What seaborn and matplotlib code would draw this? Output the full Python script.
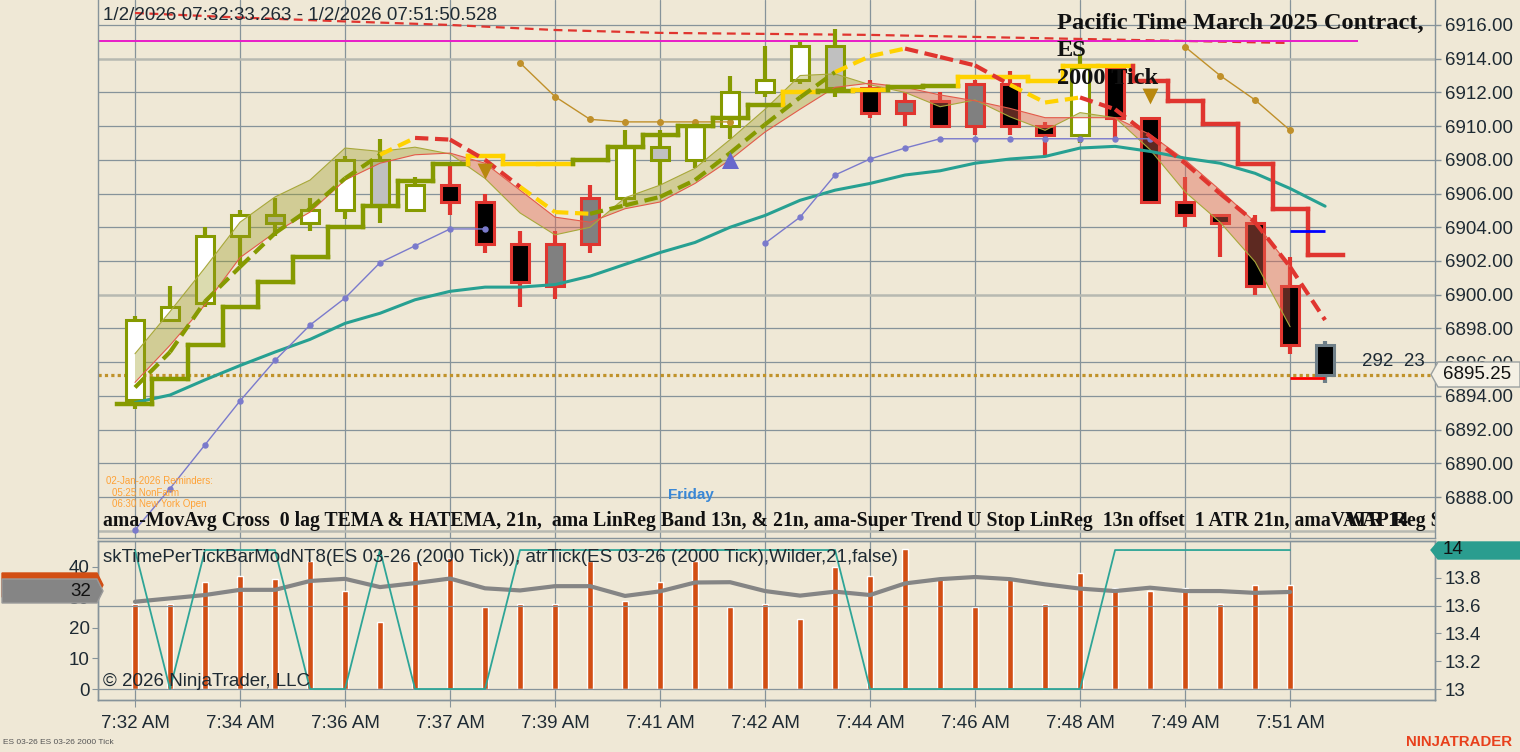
import numpy as np
import matplotlib
matplotlib.use("Agg")
import matplotlib.pyplot as plt
import seaborn as sns
from matplotlib.patches import Polygon

sns.set_style("ticks")
plt.rcParams['font.family'] = ['Liberation Sans', 'DejaVu Sans']

# ---------------- data ----------------
bars = list(range(35))
opens = [6893.75, 6898.5, 6899.5, 6903.5, 6904.25, 6904.25, 6905.0, 6905.25, 6905.0, 6906.5,
         6905.5, 6903.0, 6903.0, 6903.0, 6905.75, 6908.0, 6908.0, 6910.0, 6912.0, 6912.75,
         6912.25, 6912.25, 6911.5, 6911.5, 6912.5, 6912.5, 6910.0, 6909.5, 6913.5, 6910.5,
         6905.5, 6904.75, 6904.25, 6900.5, 6897.0]
highs = [6898.75, 6900.5, 6904.0, 6905.0, 6905.75, 6905.75, 6908.25, 6909.25, 6907.0, 6907.75,
         6906.0, 6903.75, 6903.75, 6906.5, 6909.75, 6909.75, 6910.0, 6913.0, 6914.75, 6915.0,
         6915.75, 6912.75, 6912.0, 6912.0, 6912.75, 6913.25, 6910.25, 6914.25, 6913.5, 6910.5,
         6907.0, 6904.75, 6904.75, 6902.25, 6897.25]
lows = [6893.25, 6898.5, 6899.25, 6901.75, 6903.5, 6903.75, 6904.5, 6904.25, 6905.0, 6904.75,
        6902.5, 6899.25, 6899.75, 6902.5, 6905.25, 6906.5, 6907.5, 6909.25, 6911.75, 6912.5,
        6911.75, 6910.5, 6910.0, 6910.0, 6909.5, 6909.5, 6908.25, 6909.0, 6909.25, 6905.5,
        6904.0, 6902.25, 6900.0, 6896.5, 6894.75]
closes = [6898.5, 6899.25, 6903.5, 6904.75, 6904.75, 6905.0, 6908.0, 6908.0, 6906.5, 6905.5,
          6903.0, 6900.75, 6900.5, 6905.75, 6908.75, 6908.75, 6910.0, 6912.0, 6912.75, 6914.75,
          6914.75, 6910.75, 6910.75, 6910.0, 6910.0, 6910.0, 6909.5, 6913.5, 6910.5, 6905.5,
          6904.75, 6904.25, 6900.5, 6897.0, 6895.25]
body_fill = list("WWWWSWWSWKKKDDWSWWWWSKDKDKKWKKKKKKK")
body_edge = list("GGGGGGGGGRRRRRGGGGGGGRRRRRRGRRRRRRX")

# super trend stop (step line)
stop_vals = [6893.5, 6895.0, 6897.0, 6899.25, 6900.75, 6902.25, 6904.0, 6905.25, 6906.75, 6907.75,
             6908.2, 6907.75, 6907.75, 6908.0, 6908.75, 6909.5, 6910.0, 6910.5, 6911.25, 6912.0,
             6912.1, 6912.15, 6912.3, 6912.4, 6912.9, 6912.9, 6912.7, 6913.55, 6913.55, 6912.7,
             6911.5, 6910.1, 6907.75, 6905.1, 6902.35]
stop_col = list("GGGGGGGGGGYYYGGGGGGYGYGGYYYYYRRRRRR")

# 0 lag TEMA (dashed), colour per segment
tema_vals = [6894.5, 6896.6, 6899.6, 6901.65, 6903.65, 6905.1, 6906.9, 6908.3, 6909.3, 6909.2,
             6908.0, 6906.4, 6904.9, 6904.8, 6905.3, 6905.8, 6906.8, 6908.4, 6910.1, 6911.7,
             6913.2, 6914.15, 6914.6, 6914.1, 6913.6, 6912.45, 6911.4, 6911.7, 6911.0, 6909.4,
             6907.8, 6906.0, 6904.3, 6901.65, 6898.5]
tema_col = list("GGGGGGGYRRRYYGGGGGGGYYRRRYYRRRRRRR")

# LinReg band (olive line / red line)
band_bars = list(range(34))
band_olive = [6896.5, 6899.0, 6901.6, 6904.3, 6905.8, 6906.8, 6908.7, 6908.5, 6908.75, 6908.35,
              6906.9, 6904.85, 6903.55, 6904.0, 6905.75, 6906.5, 6907.5, 6909.2, 6911.0, 6913.0,
              6913.1, 6912.45, 6912.0, 6911.15, 6911.55, 6910.55, 6909.75, 6910.8, 6910.5, 6908.6,
              6906.1, 6904.3, 6901.95, 6898.1]
band_red = [6894.8, 6897.0, 6899.4, 6902.2, 6903.7, 6904.9, 6906.8, 6907.8, 6908.3, 6908.4,
            6907.8, 6906.2, 6904.6, 6904.3, 6905.1, 6905.5, 6906.6, 6908.0, 6909.65, 6911.0,
            6912.3, 6912.55, 6912.3, 6911.85, 6911.5, 6911.05, 6910.5, 6910.5, 6910.5, 6909.5,
            6908.0, 6906.2, 6904.3, 6901.65]

vwap_vals = [6893.6, 6894.05, 6894.95, 6895.8, 6896.6, 6897.35, 6898.3, 6898.9, 6899.7, 6900.2,
             6900.45, 6900.45, 6900.6, 6901.1, 6901.8, 6902.5, 6903.1, 6904.0, 6904.7, 6905.6,
             6906.2, 6906.6, 6907.1, 6907.35, 6907.8, 6908.05, 6908.2, 6908.7, 6908.8, 6908.5,
             6908.1, 6907.8, 6907.2, 6906.3, 6905.25]

nan = np.nan
lav_vals = [6886.05, 6888.5, 6891.1, 6893.7, 6896.1, 6898.2, 6899.8, 6901.9, 6902.9, 6903.9,
            6903.9, nan, nan, nan, nan, nan, nan, nan, 6903.05, 6904.6,
            6907.1, 6908.05, 6908.7, 6909.25, 6909.25, 6909.25, 6909.25, 6909.25, 6909.25, 6909.25,
            nan, nan, nan, nan, nan]
gold_vals = [nan] * 11 + [6913.75, 6911.75, 6910.4, 6910.25, 6910.25, 6910.25, 6910.25] + \
            [nan] * 12 + [6914.7, 6913.0, 6911.55, 6909.75, nan]

top_dash_bars = [0, 3, 6, 9, 12, 15, 18, 21, 24, 27, 30, 33]
top_dash_vals = [6916.71, 6916.44, 6916.21, 6916.0, 6915.7, 6915.53, 6915.47, 6915.41,
                 6915.29, 6915.17, 6915.05, 6914.93]

magenta_level = 6915.05
last_price = 6895.25
blue_level = 6903.8
red_level = 6895.05
up_tri_bars, up_tri_vals = [17], [6908.0]
dn_tri_bars, dn_tri_vals = [10, 29], [6907.35, 6911.8]

# lower panel
low_bars = list(range(34))
tpt_vals = [28, 28, 35, 37, 36, 42, 32, 22, 42, 43, 27, 28, 28, 42, 29, 35, 42, 27, 28, 23,
            40, 37, 46, 36, 27, 36, 28, 38, 33, 32, 33, 28, 34, 34]
tpt_avg = [28.6, 29.7, 30.8, 32.5, 32.5, 35.4, 36.1, 33.4, 34.7, 36.2, 33.0, 32.3, 33.7, 33.7,
           30.5, 32.0, 34.9, 35.0, 32.1, 30.6, 31.9, 30.8, 34.6, 36.0, 36.7, 36.0, 34.3, 32.9,
           32.1, 33.2, 32.1, 32.1, 31.5, 31.8]
atr_vals = [14, 13, 14, 14, 14, 13, 13, 14, 13, 13, 13, 14, 14, 14, 14, 14, 14, 14, 14, 14,
            14, 13, 13, 13, 13, 13, 13, 13, 14, 14, 14, 14, 14, 14]

price_ticks = [6888, 6890, 6892, 6894, 6896, 6898, 6900, 6902, 6904, 6906, 6908, 6910, 6912, 6914, 6916]
light_levels = [6886, 6900, 6914]
time_bars = [0, 3, 6, 9, 12, 15, 18, 21, 24, 27, 30, 33]
time_labels = ["7:32 AM", "7:34 AM", "7:36 AM", "7:37 AM", "7:39 AM", "7:41 AM",
               "7:42 AM", "7:44 AM", "7:46 AM", "7:48 AM", "7:49 AM", "7:51 AM"]
left_ticks = [0, 10, 20, 30, 40]
right_ticks = [13, 13.2, 13.4, 13.6, 13.8, 14]
right_labels = ["13", "13.2", "13.4", "13.6", "13.8", "14"]

# ---------------- style ----------------
W, H = 1520, 752
BG = '#efe8d6'
GRID = '#86939a'
TXT = '#1e2a33'
OLIVE, YELLOW, RED = '#869a00', '#ffd200', '#e0352f'
line_c = {'G': OLIVE, 'Y': YELLOW, 'R': RED}
fill_c = {'W': '#ffffff', 'S': '#c0c0c0', 'D': '#808080', 'K': '#000000'}
edge_c = {'G': OLIVE, 'R': RED, 'X': '#6f7f88'}
SERIF = ['Liberation Serif', 'DejaVu Serif']

fig = plt.figure(figsize=(W / 100, H / 100), dpi=100, facecolor=BG)
ax = fig.add_axes([98 / W, 1 - 538 / H, (1435 - 98) / W, 538 / H], facecolor=BG)
ax2 = fig.add_axes([98 / W, 1 - 700 / H, (1435 - 98) / W, (700 - 541) / H], facecolor=BG)
ax2r = ax2.twinx()

xlim = (-1.057, 37.14)
ax.set_xlim(*xlim)
ax.set_ylim(6885.57, 6917.48)

# grid
for t in time_bars:
    ax.axvline(t, color=GRID, lw=0.9, zorder=1)
    ax2.axvline(t, color=GRID, lw=0.9, zorder=1)
for p in price_ticks + [6886]:
    if p in light_levels:
        ax.axhline(p, color='#b7b9b1', lw=1.8, zorder=1)
    else:
        ax.axhline(p, color=GRID, lw=0.9, zorder=1)

# top dashed line + magenta + last price
ax.plot(top_dash_bars, top_dash_vals, color=RED, lw=1.6, ls=(0, (4, 2.5)), zorder=2)
ax.hlines(magenta_level, xlim[0], 34.94, color='#e81cc8', lw=1.4, zorder=2)
ax.axhline(last_price, color='#c0922a', lw=2.3, ls=(0, (1, 1)), zorder=2)

# candles
for i in bars:
    ax.vlines(i, lows[i], highs[i], color=edge_c[body_edge[i]], lw=3.0, zorder=3)
bottoms = np.minimum(opens, closes)
heights = np.abs(np.array(closes) - np.array(opens))
ax.bar(bars, heights, bottom=bottoms, width=0.5,
       color=[fill_c[c] for c in body_fill],
       edgecolor=[edge_c[c] for c in body_edge], linewidth=2.2, zorder=3.5)

# LinReg band
bx = np.array(band_bars)
bo = np.array(band_olive)
br = np.array(band_red)
ax.fill_between(bx, bo, br, where=bo >= br, interpolate=True, color='#9c9c22', alpha=0.36, lw=0, zorder=4)
ax.fill_between(bx, bo, br, where=bo < br, interpolate=True, color='#e06450', alpha=0.42, lw=0, zorder=4)
ax.plot(bx, bo, color='#a8a83a', lw=0.8, zorder=4.2)
ax.plot(bx, br, color='#e35a4a', lw=0.8, zorder=4.2)

# vwap-like teal line, lavender and gold dotted lines
sns.lineplot(x=bars, y=vwap_vals, ax=ax, color='#27a092', lw=2.2, zorder=5)
ax.plot(bars, lav_vals, color='#7a7acc', lw=1.0, marker='o', ms=3.6, zorder=5)
ax.plot(bars, gold_vals, color='#c0902a', lw=1.0, marker='o', ms=4.0, zorder=5)

# super trend stop line
for i in bars:
    c = line_c[stop_col[i]]
    ax.plot([i - 0.5, i + 0.5], [stop_vals[i], stop_vals[i]], color=c, lw=3.2,
            solid_capstyle='projecting', zorder=5.5)
    if i > 0:
        ax.plot([i - 0.5, i - 0.5], [stop_vals[i - 1], stop_vals[i]], color=c, lw=3.2,
                solid_capstyle='projecting', zorder=5.5)

# TEMA dashed
for i in range(len(tema_vals) - 1):
    ax.plot([i, i + 1], [tema_vals[i], tema_vals[i + 1]], color=line_c[tema_col[i]],
            lw=3.0, ls=(0, (3.2, 1.6)), zorder=6)

# short level lines and triangles
ax.hlines(blue_level, 33, 34, color='#0000ff', lw=2.0, zorder=6)
ax.hlines(red_level, 33, 34, color='#ff0000', lw=2.0, zorder=6)
ax.scatter(up_tri_bars, up_tri_vals, marker='^', s=150, color='#6868cc', zorder=7, lw=0)
ax.scatter(dn_tri_bars, dn_tri_vals, marker='v', s=130, color='#b8880e', zorder=7, lw=0)

# axes cosmetics upper
ax.yaxis.tick_right()
ax.set_yticks(price_ticks)
ax.set_yticklabels([f"{p:.2f}" for p in price_ticks])
ax.tick_params(axis='y', length=4, width=1, colors=GRID, labelcolor=TXT, labelsize=13.5, pad=3)
ax.set_xticks([])
ax.spines['top'].set_visible(False)
for s in ['left', 'right', 'bottom']:
    ax.spines[s].set_color(GRID)
    ax.spines[s].set_linewidth(1.0)

# ---------------- lower panel ----------------
ax2.set_xlim(*xlim)
ax2.set_ylim(-3.6, 48.5)
ax2r.set_ylim(12.921, 14.065)
ax2r.axhline(13.6, color=GRID, lw=0.9, zorder=1)
ax2r.axhline(13.0, color=GRID, lw=0.9, zorder=1)
ax2.bar(low_bars, tpt_vals, width=0.15, color='#d24e14', zorder=3)
sns.lineplot(x=low_bars, y=tpt_avg, ax=ax2, color='#858585', lw=3.0, zorder=4)
ax2r.plot(low_bars, atr_vals, color='#2ea597', lw=1.3, zorder=5)

ax2.set_yticks(left_ticks)
ax2.set_yticklabels([str(v) for v in left_ticks])
ax2.set_xticks(time_bars)
ax2.set_xticklabels(time_labels)
ax2.tick_params(axis='y', length=4, colors=GRID, labelcolor=TXT, labelsize=13.5, pad=2)
ax2.tick_params(axis='x', length=5, colors=GRID, labelcolor=TXT, labelsize=13.5, pad=6)
ax2r.set_yticks(right_ticks)
ax2r.set_yticklabels(right_labels)
ax2r.tick_params(axis='y', length=4, colors=GRID, labelcolor=TXT, labelsize=13.5, pad=3)
ax2.set_xlabel('')
ax2.set_ylabel('')
ax2r.set_ylabel('')
for a in (ax2, ax2r):
    for s in a.spines.values():
        s.set_color(GRID)
        s.set_linewidth(1.0)

# ---------------- texts ----------------
def fxy(x, y):
    return x / W, 1 - y / H

fig.text(*fxy(103, 15), "1/2/2026 07:32:33.263 - 1/2/2026 07:51:50.528",
         fontsize=13.5, color=TXT, va='center', ha='left')
for k, line in enumerate(["Pacific Time March 2025 Contract,", "ES", "2000 Tick"]):
    fig.text(*fxy(1057, 23 + 28 * k), line, family=SERIF, fontweight='bold',
             fontsize=17.6, color='#111111', va='center', ha='left')

legend_txt = ("ama-MovAvg Cross  0 lag TEMA & HATEMA, 21n,  ama LinReg Band 13n, & 21n, "
              "ama-Super Trend U Stop LinReg  13n offset  1 ATR 21n, amaVWAP Reg S")
ax.text(103 / W, 1 - 521 / H, legend_txt, transform=fig.transFigure, family=SERIF,
        fontweight='bold', fontsize=14.2, color='#111111', va='center', ha='left',
        clip_on=True, zorder=8)
ax.text(1343 / W, 1 - 521 / H, "ATR 14", transform=fig.transFigure, family=SERIF,
        fontweight='bold', fontsize=14.2, color='#111111', va='center', ha='left',
        clip_on=True, zorder=8)

ax.text(1362 / W, 1 - 361 / H, "292  23", transform=fig.transFigure, fontsize=13.5,
        color=TXT, va='center', ha='left', zorder=8)
ax.text(691 / W, 1 - 495 / H, "Friday", transform=fig.transFigure, fontsize=11,
        fontweight='bold', color='#3a88d6', va='center', ha='center', zorder=8)
for (x, y, s) in [(106, 481, "02-Jan-2026 Reminders:"), (112, 493, "05:25 NonFarm"),
                  (112, 504, "06:30 New York Open")]:
    ax.text(x / W, 1 - y / H, s, transform=fig.transFigure, fontsize=7,
            color='#ffa236', va='center', ha='left', zorder=8)

fig.text(*fxy(103, 557), "skTimePerTickBarModNT8(ES 03-26 (2000 Tick)), atrTick(ES 03-26 (2000 Tick),Wilder,21,false)",
         fontsize=13.5, color=TXT, va='center', ha='left')
fig.text(*fxy(103, 682), "\u00a9 2026 NinjaTrader, LLC", fontsize=13.5, color=TXT,
         va='center', ha='left')
fig.text(*fxy(3, 742), "ES 03-26 ES 03-26 2000 Tick", fontsize=6, color='#555555',
         va='center', ha='left')
fig.text(*fxy(1512, 742), "NINJATRADER", fontsize=10.8, fontweight='bold', color='#e8401c',
         va='center', ha='right')

# value flags
def flag(pts, fc, ec):
    poly = Polygon([fxy(x, y) for x, y in pts], closed=True, transform=fig.transFigure,
                   facecolor=fc, edgecolor=ec, lw=1.0)
    fig.add_artist(poly)

flag([(1431, 374.5), (1438, 362), (1520, 362), (1520, 387), (1438, 387)], '#f4f0e4', '#9aa0a0')
fig.text(*fxy(1443, 374.5), f"{last_price:.2f}", fontsize=13.5, color='#111111', va='center', ha='left')

flag([(1431, 550), (1438, 542), (1520, 542), (1520, 559), (1438, 559)], '#2a9d8f', '#2a9d8f')
fig.text(*fxy(1443, 550), "14", fontsize=13.5, color='#111111', va='center', ha='left')

flag([(2, 573), (97, 573), (103, 585), (97, 597), (2, 597)], '#d24e14', '#d24e14')
flag([(2, 579), (97, 579), (103, 591), (97, 603), (2, 603)], '#858585', '#9a9a9a')
fig.text(*fxy(91, 591), "32", fontsize=13.5, color='#111111', va='center', ha='right')

fig.savefig("out.png", dpi=100, facecolor=BG)
